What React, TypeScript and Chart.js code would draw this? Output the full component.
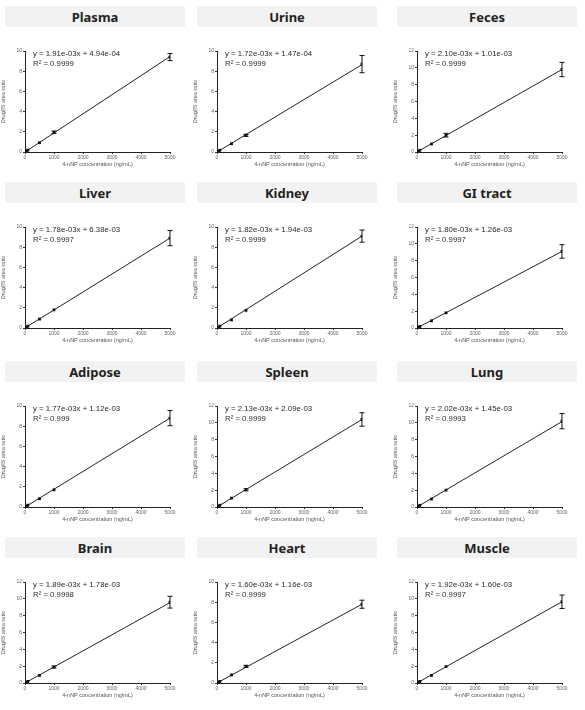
import React, { useEffect, useRef } from "react";
import { Chart, registerables } from "chart.js";

Chart.register(...registerables);

const ORGANS = ["Plasma", "Urine", "Feces", "Liver", "Kidney", "GI tract", "Adipose", "Spleen", "Lung", "Brain", "Heart", "Muscle"];
const EQUATIONS = [
  "y = 1.91e-03x + 4.94e-04",
  "y = 1.72e-03x + 1.47e-04",
  "y = 2.10e-03x + 1.01e-03",
  "y = 1.78e-03x + 6.38e-03",
  "y = 1.82e-03x + 1.94e-03",
  "y = 1.80e-03x + 1.26e-03",
  "y = 1.77e-03x + 1.12e-03",
  "y = 2.13e-03x + 2.09e-03",
  "y = 2.02e-03x + 1.45e-03",
  "y = 1.89e-03x + 1.78e-03",
  "y = 1.60e-03x + 1.16e-03",
  "y = 1.92e-03x + 1.60e-03",
];
const R2_TEXT = ["0.9999", "0.9999", "0.9999", "0.9997", "0.9999", "0.9997", "0.999", "0.9999", "0.9993", "0.9998", "0.9999", "0.9997"];
// fitted line as drawn in the picture: value at x = 0 and at x = 5000
const LINE_START = [0.0, 0.0, 0.0, 0.01, 0.0, 0.0, 0.0, 0.0, 0.0, 0.0, 0.0, 0.0];
const LINE_END = [9.45, 8.65, 9.8, 8.9, 9.1, 9.1, 8.8, 10.4, 10.15, 9.55, 7.8, 9.65];
const Y_MAX = [10, 10, 12, 10, 10, 12, 10, 12, 12, 12, 10, 12];

const CONC = [10, 50, 100, 500, 1000, 5000];
const X_TICKS = [0, 1000, 2000, 3000, 4000, 5000];

const plasmaMean = [0.02, 0.1, 0.19, 0.92, 1.95, 9.4];
const urineMean = [0.02, 0.09, 0.17, 0.82, 1.65, 8.7];
const fecesMean = [0.02, 0.1, 0.21, 0.95, 2.0, 9.8];
const liverMean = [0.02, 0.09, 0.18, 0.88, 1.8, 8.9];
const kidneyMean = [0.02, 0.09, 0.18, 0.8, 1.75, 9.1];
const giMean = [0.02, 0.09, 0.18, 0.85, 1.8, 9.1];
const adiposeMean = [0.02, 0.09, 0.18, 0.82, 1.7, 8.8];
const spleenMean = [0.02, 0.11, 0.21, 1.05, 2.05, 10.4];
const lungMean = [0.02, 0.1, 0.2, 0.95, 2.0, 10.2];
const brainMean = [0.02, 0.1, 0.19, 0.9, 1.9, 9.6];
const heartMean = [0.02, 0.08, 0.16, 0.8, 1.65, 7.8];
const muscleMean = [0.02, 0.1, 0.19, 0.9, 1.95, 9.65];

const plasmaErr = [0.01, 0.01, 0.02, 0.04, 0.12, 0.35];
const urineErr = [0.01, 0.01, 0.02, 0.04, 0.1, 0.85];
const fecesErr = [0.01, 0.01, 0.02, 0.05, 0.22, 0.85];
const liverErr = [0.01, 0.01, 0.02, 0.04, 0.08, 0.75];
const kidneyErr = [0.01, 0.01, 0.02, 0.04, 0.08, 0.6];
const giErr = [0.01, 0.01, 0.02, 0.04, 0.08, 0.8];
const adiposeErr = [0.01, 0.01, 0.02, 0.04, 0.08, 0.75];
const spleenErr = [0.01, 0.01, 0.02, 0.05, 0.12, 0.8];
const lungErr = [0.01, 0.01, 0.02, 0.05, 0.1, 0.9];
const brainErr = [0.01, 0.01, 0.02, 0.05, 0.12, 0.7];
const heartErr = [0.01, 0.01, 0.02, 0.04, 0.1, 0.4];
const muscleErr = [0.01, 0.01, 0.02, 0.05, 0.1, 0.8];

const MEANS = [plasmaMean, urineMean, fecesMean, liverMean, kidneyMean, giMean, adiposeMean, spleenMean, lungMean, brainMean, heartMean, muscleMean];
const ERRS = [plasmaErr, urineErr, fecesErr, liverErr, kidneyErr, giErr, adiposeErr, spleenErr, lungErr, brainErr, heartErr, muscleErr];

const X_TITLE = "4-nNP concentration (ng/mL)";
const Y_TITLE = "Drug/IS area ratio";

const COL_LEFT = [0, 192, 392];
const ROW_TOP = [6, 182, 361, 537];

const errorBarPlugin = {
  id: "errorBars",
  afterDatasetsDraw(chart: any, _args: any, opts: any) {
    const errs: number[] = opts.errs || [];
    const meta = chart.getDatasetMeta(0);
    const ds = chart.data.datasets[0];
    const ctx = chart.ctx;
    const ys = chart.scales.y;
    ctx.save();
    ctx.strokeStyle = "#111";
    ctx.lineWidth = 1;
    meta.data.forEach((el: any, i: number) => {
      const v = ds.data[i].y;
      const e = errs[i] || 0;
      const x = el.x;
      const yt = ys.getPixelForValue(v + e);
      const yb = ys.getPixelForValue(v - e);
      if (Math.abs(yb - yt) < 2) return;
      ctx.beginPath();
      ctx.moveTo(x, yt);
      ctx.lineTo(x, yb);
      ctx.moveTo(x - 2.5, yt);
      ctx.lineTo(x + 2.5, yt);
      ctx.moveTo(x - 2.5, yb);
      ctx.lineTo(x + 2.5, yb);
      ctx.stroke();
    });
    ctx.restore();
  },
};

const equationPlugin = {
  id: "equation",
  afterDraw(chart: any, _args: any, opts: any) {
    const ctx = chart.ctx;
    const a = chart.chartArea;
    ctx.save();
    ctx.fillStyle = "#2a2a2a";
    ctx.font = "7.8px 'Liberation Sans', Arial, sans-serif";
    ctx.textBaseline = "top";
    ctx.textAlign = "left";
    ctx.fillText(opts.eq, a.left + 8, a.top - 1);
    ctx.fillText("R\u00B2 = " + opts.r2, a.left + 8, a.top + 8.5);
    ctx.restore();
  },
};

function Panel({ idx }: { idx: number }) {
  const ref = useRef<HTMLCanvasElement | null>(null);
  useEffect(() => {
    if (!ref.current) return;
    const points = CONC.map((c, i) => ({ x: c, y: MEANS[idx][i] }));
    const line = [
      { x: 0, y: LINE_START[idx] },
      { x: 5000, y: LINE_END[idx] },
    ];
    const tickFont = { size: 5, family: "'Liberation Sans', Arial, sans-serif" };
    const chart = new Chart(ref.current, {
      type: "scatter",
      data: {
        datasets: [
          {
            data: points,
            showLine: false,
            pointStyle: "rect",
            pointRadius: 2,
            backgroundColor: "#111",
            borderColor: "#111",
            borderWidth: 0,
          },
          {
            data: line,
            showLine: true,
            pointRadius: 0,
            borderColor: "#222",
            borderWidth: 1,
            fill: false,
          },
        ],
      },
      options: {
        animation: false,
        responsive: false,
        events: [],
        layout: { padding: { top: 23, right: 25, left: 0, bottom: 0 } },
        plugins: {
          legend: { display: false },
          tooltip: { enabled: false },
          errorBars: { errs: ERRS[idx] },
          equation: { eq: EQUATIONS[idx], r2: R2_TEXT[idx] },
        } as any,
        scales: {
          x: {
            type: "linear",
            min: 0,
            max: 5000,
            afterBuildTicks: (s: any) => {
              s.ticks = X_TICKS.map((v) => ({ value: v }));
            },
            afterFit: (s: any) => {
              s.height = 18;
            },
            ticks: { font: tickFont, color: "#666", padding: 1, maxRotation: 0, autoSkip: false, callback: (v: any) => String(v) },
            grid: { display: true, drawOnChartArea: false, drawTicks: true, tickLength: 2, color: "#333" },
            border: { color: "#222", width: 1 },
            title: { display: true, text: X_TITLE, font: { size: 5.5, family: "'Liberation Sans', Arial, sans-serif" }, color: "#555", padding: { top: 2, bottom: 2 } },
          },
          y: {
            type: "linear",
            min: 0,
            max: Y_MAX[idx],
            ticks: { stepSize: 2, font: tickFont, color: "#666", padding: 1, callback: (v: any) => String(v) },
            afterFit: (s: any) => {
              s.width = 25;
            },
            grid: { display: true, drawOnChartArea: false, drawTicks: true, tickLength: 2, color: "#333" },
            border: { color: "#222", width: 1 },
            title: { display: true, text: Y_TITLE, font: { size: 5.5, family: "'Liberation Sans', Arial, sans-serif" }, color: "#555", padding: { top: 0, bottom: 0 } },
          },
        },
      },
      plugins: [errorBarPlugin, equationPlugin],
    } as any);
    return () => chart.destroy();
  }, [idx]);

  const col = idx % 3;
  const row = Math.floor(idx / 3);
  const left = COL_LEFT[col];
  const top = ROW_TOP[row];
  return (
    <>
      <div
        style={{
          position: "absolute",
          left: left + 5,
          top: top,
          width: 180,
          height: 21,
          background: "#f2f2f2",
          display: "flex",
          alignItems: "center",
          justifyContent: "center",
          fontFamily: "'Noto Sans', sans-serif",
          fontWeight: 700,
          fontSize: 13,
          color: "#222",
        }}
      >
        {ORGANS[idx]}
      </div>
      <canvas
        ref={ref}
        width={195}
        height={142}
        style={{ position: "absolute", left: left, top: top + 22, width: 195, height: 142 }}
      />
    </>
  );
}

export default function App() {
  return (
    <div style={{ position: "fixed", left: 0, top: 0, width: 585, height: 710, background: "#fff", overflow: "hidden" }}>
      {ORGANS.map((_, i) => (
        <Panel key={i} idx={i} />
      ))}
    </div>
  );
}
